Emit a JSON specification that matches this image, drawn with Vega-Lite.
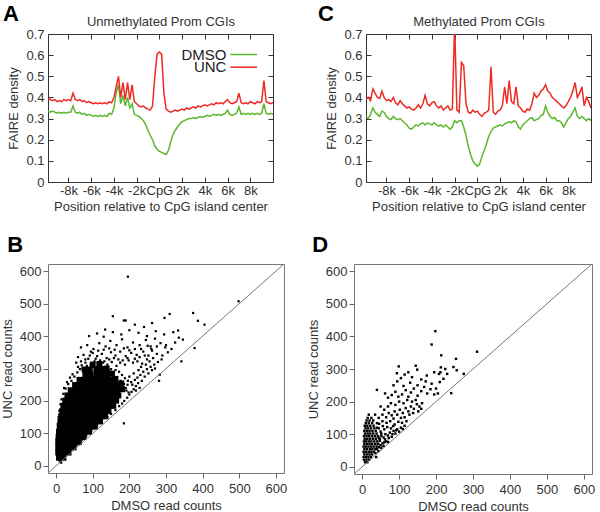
{
"$schema":"https://vega.github.io/schema/vega-lite/v6.json",
"background":"white",
"padding":{"left":0,"top":2,"right":2,"bottom":2},
"config":{"font":"Liberation Sans","view":{"stroke":"#333"},
 "axis":{"labelFont":"Liberation Sans","titleFont":"Liberation Sans","labelFontSize":13,"titleFontSize":13,"titleFontWeight":"normal","labelColor":"#333","titleColor":"#333","grid":false,"domain":false,"tickColor":"#333"},
 "title":{"font":"Liberation Sans"}},
"datasets":{
"profA":[
{"pos":-9800,"DMSO":0.335,"UNC":0.395},{"pos":-9600,"DMSO":0.33,"UNC":0.39},{"pos":-9400,"DMSO":0.335,"UNC":0.385},{"pos":-9200,"DMSO":0.33,"UNC":0.39},{"pos":-9000,"DMSO":0.325,"UNC":0.38},{"pos":-8800,"DMSO":0.33,"UNC":0.385},{"pos":-8600,"DMSO":0.325,"UNC":0.38},{"pos":-8400,"DMSO":0.33,"UNC":0.39},{"pos":-8200,"DMSO":0.325,"UNC":0.385},{"pos":-8000,"DMSO":0.33,"UNC":0.39},
{"pos":-7800,"DMSO":0.33,"UNC":0.385},{"pos":-7600,"DMSO":0.36,"UNC":0.42},{"pos":-7400,"DMSO":0.33,"UNC":0.39},{"pos":-7200,"DMSO":0.325,"UNC":0.385},{"pos":-7000,"DMSO":0.33,"UNC":0.39},{"pos":-6800,"DMSO":0.32,"UNC":0.38},{"pos":-6600,"DMSO":0.325,"UNC":0.385},{"pos":-6400,"DMSO":0.315,"UNC":0.375},{"pos":-6200,"DMSO":0.32,"UNC":0.38},{"pos":-6000,"DMSO":0.315,"UNC":0.375},
{"pos":-5800,"DMSO":0.31,"UNC":0.37},{"pos":-5600,"DMSO":0.315,"UNC":0.375},{"pos":-5400,"DMSO":0.31,"UNC":0.37},{"pos":-5200,"DMSO":0.315,"UNC":0.375},{"pos":-5000,"DMSO":0.31,"UNC":0.37},{"pos":-4800,"DMSO":0.315,"UNC":0.375},{"pos":-4600,"DMSO":0.31,"UNC":0.37},{"pos":-4400,"DMSO":0.325,"UNC":0.38},{"pos":-4200,"DMSO":0.32,"UNC":0.375},{"pos":-4000,"DMSO":0.35,"UNC":0.40},
{"pos":-3800,"DMSO":0.42,"UNC":0.45},{"pos":-3600,"DMSO":0.46,"UNC":0.50},{"pos":-3400,"DMSO":0.37,"UNC":0.40},{"pos":-3200,"DMSO":0.41,"UNC":0.47},{"pos":-3000,"DMSO":0.36,"UNC":0.39},{"pos":-2800,"DMSO":0.40,"UNC":0.47},{"pos":-2600,"DMSO":0.35,"UNC":0.39},{"pos":-2400,"DMSO":0.37,"UNC":0.46},{"pos":-2200,"DMSO":0.32,"UNC":0.38},{"pos":-2000,"DMSO":0.315,"UNC":0.37},
{"pos":-1800,"DMSO":0.31,"UNC":0.36},{"pos":-1600,"DMSO":0.30,"UNC":0.355},{"pos":-1400,"DMSO":0.29,"UNC":0.36},{"pos":-1200,"DMSO":0.27,"UNC":0.35},{"pos":-1000,"DMSO":0.245,"UNC":0.345},{"pos":-800,"DMSO":0.22,"UNC":0.34},{"pos":-600,"DMSO":0.20,"UNC":0.36},{"pos":-400,"DMSO":0.17,"UNC":0.50},{"pos":-200,"DMSO":0.155,"UNC":0.605},{"pos":0,"DMSO":0.145,"UNC":0.615},
{"pos":200,"DMSO":0.14,"UNC":0.605},{"pos":400,"DMSO":0.135,"UNC":0.42},{"pos":600,"DMSO":0.13,"UNC":0.345},{"pos":800,"DMSO":0.15,"UNC":0.335},{"pos":1000,"DMSO":0.19,"UNC":0.33},{"pos":1200,"DMSO":0.225,"UNC":0.335},{"pos":1400,"DMSO":0.245,"UNC":0.34},{"pos":1600,"DMSO":0.26,"UNC":0.335},{"pos":1800,"DMSO":0.275,"UNC":0.34},{"pos":2000,"DMSO":0.285,"UNC":0.345},
{"pos":2200,"DMSO":0.29,"UNC":0.34},{"pos":2400,"DMSO":0.295,"UNC":0.35},{"pos":2600,"DMSO":0.30,"UNC":0.345},{"pos":2800,"DMSO":0.30,"UNC":0.35},{"pos":3000,"DMSO":0.305,"UNC":0.355},{"pos":3200,"DMSO":0.30,"UNC":0.35},{"pos":3400,"DMSO":0.305,"UNC":0.36},{"pos":3600,"DMSO":0.31,"UNC":0.355},{"pos":3800,"DMSO":0.305,"UNC":0.36},{"pos":4000,"DMSO":0.31,"UNC":0.365},
{"pos":4200,"DMSO":0.315,"UNC":0.36},{"pos":4400,"DMSO":0.31,"UNC":0.365},{"pos":4600,"DMSO":0.315,"UNC":0.37},{"pos":4800,"DMSO":0.32,"UNC":0.365},{"pos":5000,"DMSO":0.315,"UNC":0.375},{"pos":5200,"DMSO":0.32,"UNC":0.37},{"pos":5400,"DMSO":0.315,"UNC":0.375},{"pos":5600,"DMSO":0.32,"UNC":0.37},{"pos":5800,"DMSO":0.325,"UNC":0.38},{"pos":6000,"DMSO":0.34,"UNC":0.39},
{"pos":6200,"DMSO":0.32,"UNC":0.375},{"pos":6400,"DMSO":0.315,"UNC":0.37},{"pos":6600,"DMSO":0.32,"UNC":0.375},{"pos":6800,"DMSO":0.325,"UNC":0.38},{"pos":7000,"DMSO":0.355,"UNC":0.42},{"pos":7200,"DMSO":0.32,"UNC":0.375},{"pos":7400,"DMSO":0.325,"UNC":0.37},{"pos":7600,"DMSO":0.32,"UNC":0.375},{"pos":7800,"DMSO":0.325,"UNC":0.37},{"pos":8000,"DMSO":0.32,"UNC":0.38},
{"pos":8200,"DMSO":0.325,"UNC":0.375},{"pos":8400,"DMSO":0.32,"UNC":0.37},{"pos":8600,"DMSO":0.325,"UNC":0.38},{"pos":8800,"DMSO":0.32,"UNC":0.375},{"pos":9000,"DMSO":0.325,"UNC":0.38},{"pos":9200,"DMSO":0.37,"UNC":0.48},{"pos":9400,"DMSO":0.325,"UNC":0.38},{"pos":9600,"DMSO":0.32,"UNC":0.375},{"pos":9800,"DMSO":0.325,"UNC":0.37},{"pos":10000,"DMSO":0.32,"UNC":0.375}
],
"profC":[
{"pos":-9800,"DMSO":0.31,"UNC":0.39},{"pos":-9600,"DMSO":0.30,"UNC":0.40},{"pos":-9400,"DMSO":0.32,"UNC":0.385},{"pos":-9200,"DMSO":0.35,"UNC":0.44},{"pos":-9000,"DMSO":0.33,"UNC":0.42},{"pos":-8800,"DMSO":0.32,"UNC":0.40},{"pos":-8600,"DMSO":0.31,"UNC":0.395},{"pos":-8400,"DMSO":0.335,"UNC":0.43},{"pos":-8200,"DMSO":0.33,"UNC":0.40},{"pos":-8000,"DMSO":0.31,"UNC":0.385},
{"pos":-7800,"DMSO":0.30,"UNC":0.39},{"pos":-7600,"DMSO":0.295,"UNC":0.38},{"pos":-7400,"DMSO":0.31,"UNC":0.40},{"pos":-7200,"DMSO":0.30,"UNC":0.375},{"pos":-7000,"DMSO":0.295,"UNC":0.365},{"pos":-6800,"DMSO":0.30,"UNC":0.385},{"pos":-6600,"DMSO":0.29,"UNC":0.37},{"pos":-6400,"DMSO":0.28,"UNC":0.36},{"pos":-6200,"DMSO":0.27,"UNC":0.35},{"pos":-6000,"DMSO":0.255,"UNC":0.355},
{"pos":-5800,"DMSO":0.25,"UNC":0.345},{"pos":-5600,"DMSO":0.26,"UNC":0.34},{"pos":-5400,"DMSO":0.27,"UNC":0.35},{"pos":-5200,"DMSO":0.265,"UNC":0.365},{"pos":-5000,"DMSO":0.275,"UNC":0.35},{"pos":-4800,"DMSO":0.28,"UNC":0.37},{"pos":-4600,"DMSO":0.27,"UNC":0.41},{"pos":-4400,"DMSO":0.28,"UNC":0.37},{"pos":-4200,"DMSO":0.275,"UNC":0.36},{"pos":-4000,"DMSO":0.27,"UNC":0.375},
{"pos":-3800,"DMSO":0.28,"UNC":0.38},{"pos":-3600,"DMSO":0.27,"UNC":0.36},{"pos":-3400,"DMSO":0.265,"UNC":0.35},{"pos":-3200,"DMSO":0.27,"UNC":0.36},{"pos":-3000,"DMSO":0.26,"UNC":0.34},{"pos":-2800,"DMSO":0.27,"UNC":0.35},{"pos":-2600,"DMSO":0.26,"UNC":0.36},{"pos":-2400,"DMSO":0.25,"UNC":0.34},{"pos":-2200,"DMSO":0.26,"UNC":0.345},{"pos":-2000,"DMSO":0.29,"UNC":0.75},
{"pos":-1800,"DMSO":0.28,"UNC":0.34},{"pos":-1600,"DMSO":0.29,"UNC":0.33},{"pos":-1400,"DMSO":0.29,"UNC":0.565},{"pos":-1200,"DMSO":0.26,"UNC":0.55},{"pos":-1000,"DMSO":0.22,"UNC":0.37},{"pos":-800,"DMSO":0.17,"UNC":0.33},{"pos":-600,"DMSO":0.13,"UNC":0.325},{"pos":-400,"DMSO":0.10,"UNC":0.34},{"pos":-200,"DMSO":0.085,"UNC":0.33},{"pos":0,"DMSO":0.075,"UNC":0.335},
{"pos":200,"DMSO":0.085,"UNC":0.32},{"pos":400,"DMSO":0.12,"UNC":0.31},{"pos":600,"DMSO":0.15,"UNC":0.325},{"pos":800,"DMSO":0.18,"UNC":0.33},{"pos":1000,"DMSO":0.215,"UNC":0.34},{"pos":1200,"DMSO":0.24,"UNC":0.545},{"pos":1400,"DMSO":0.255,"UNC":0.33},{"pos":1600,"DMSO":0.26,"UNC":0.32},{"pos":1800,"DMSO":0.265,"UNC":0.335},{"pos":2000,"DMSO":0.27,"UNC":0.34},
{"pos":2200,"DMSO":0.265,"UNC":0.36},{"pos":2400,"DMSO":0.275,"UNC":0.45},{"pos":2600,"DMSO":0.28,"UNC":0.37},{"pos":2800,"DMSO":0.285,"UNC":0.48},{"pos":3000,"DMSO":0.28,"UNC":0.38},{"pos":3200,"DMSO":0.29,"UNC":0.37},{"pos":3400,"DMSO":0.285,"UNC":0.45},{"pos":3600,"DMSO":0.26,"UNC":0.36},{"pos":3800,"DMSO":0.25,"UNC":0.35},{"pos":4000,"DMSO":0.27,"UNC":0.335},
{"pos":4200,"DMSO":0.28,"UNC":0.33},{"pos":4400,"DMSO":0.29,"UNC":0.345},{"pos":4600,"DMSO":0.30,"UNC":0.34},{"pos":4800,"DMSO":0.305,"UNC":0.37},{"pos":5000,"DMSO":0.29,"UNC":0.42},{"pos":5200,"DMSO":0.295,"UNC":0.40},{"pos":5400,"DMSO":0.30,"UNC":0.41},{"pos":5600,"DMSO":0.315,"UNC":0.43},{"pos":5800,"DMSO":0.32,"UNC":0.44},{"pos":6000,"DMSO":0.36,"UNC":0.46},
{"pos":6200,"DMSO":0.33,"UNC":0.43},{"pos":6400,"DMSO":0.31,"UNC":0.42},{"pos":6600,"DMSO":0.30,"UNC":0.40},{"pos":6800,"DMSO":0.305,"UNC":0.39},{"pos":7000,"DMSO":0.29,"UNC":0.38},{"pos":7200,"DMSO":0.29,"UNC":0.37},{"pos":7400,"DMSO":0.28,"UNC":0.36},{"pos":7600,"DMSO":0.26,"UNC":0.35},{"pos":7800,"DMSO":0.28,"UNC":0.36},{"pos":8000,"DMSO":0.30,"UNC":0.38},
{"pos":8200,"DMSO":0.31,"UNC":0.40},{"pos":8400,"DMSO":0.33,"UNC":0.43},{"pos":8600,"DMSO":0.35,"UNC":0.47},{"pos":8800,"DMSO":0.31,"UNC":0.40},{"pos":9000,"DMSO":0.30,"UNC":0.42},{"pos":9200,"DMSO":0.31,"UNC":0.45},{"pos":9400,"DMSO":0.30,"UNC":0.36},{"pos":9600,"DMSO":0.29,"UNC":0.40},{"pos":9800,"DMSO":0.30,"UNC":0.38},{"pos":10000,"DMSO":0.29,"UNC":0.35}
],
"coreB":[
{"x":8,"y":25},{"x":20,"y":25},
{"x":6,"y":41},{"x":20,"y":41},{"x":34,"y":41},
{"x":6,"y":57},{"x":20,"y":57},{"x":34,"y":57},{"x":48,"y":57},
{"x":6,"y":73},{"x":20,"y":73},{"x":34,"y":73},{"x":48,"y":73},{"x":62,"y":73},
{"x":7,"y":89},{"x":21,"y":89},{"x":35,"y":89},{"x":49,"y":89},{"x":63,"y":89},{"x":75,"y":89},
{"x":8,"y":105},{"x":22,"y":105},{"x":36,"y":105},{"x":50,"y":105},{"x":64,"y":105},{"x":78,"y":105},{"x":90,"y":105},
{"x":10,"y":121},{"x":24,"y":121},{"x":38,"y":121},{"x":52,"y":121},{"x":66,"y":121},{"x":80,"y":121},{"x":94,"y":121},{"x":106,"y":121},
{"x":12,"y":137},{"x":26,"y":137},{"x":40,"y":137},{"x":54,"y":137},{"x":68,"y":137},{"x":82,"y":137},{"x":96,"y":137},{"x":110,"y":137},{"x":120,"y":137},
{"x":14,"y":153},{"x":28,"y":153},{"x":42,"y":153},{"x":56,"y":153},{"x":70,"y":153},{"x":84,"y":153},{"x":98,"y":153},{"x":112,"y":153},{"x":126,"y":153},{"x":134,"y":153},
{"x":17,"y":169},{"x":31,"y":169},{"x":45,"y":169},{"x":59,"y":169},{"x":73,"y":169},{"x":87,"y":169},{"x":101,"y":169},{"x":115,"y":169},{"x":129,"y":169},{"x":143,"y":169},
{"x":20,"y":185},{"x":34,"y":185},{"x":48,"y":185},{"x":62,"y":185},{"x":76,"y":185},{"x":90,"y":185},{"x":104,"y":185},{"x":118,"y":185},{"x":132,"y":185},{"x":146,"y":185},{"x":156,"y":185},
{"x":25,"y":201},{"x":39,"y":201},{"x":53,"y":201},{"x":67,"y":201},{"x":81,"y":201},{"x":95,"y":201},{"x":109,"y":201},{"x":123,"y":201},{"x":137,"y":201},{"x":151,"y":201},{"x":164,"y":201},
{"x":31,"y":217},{"x":45,"y":217},{"x":59,"y":217},{"x":73,"y":217},{"x":87,"y":217},{"x":101,"y":217},{"x":115,"y":217},{"x":129,"y":217},{"x":143,"y":217},{"x":157,"y":217},{"x":170,"y":217},
{"x":40,"y":233},{"x":54,"y":233},{"x":68,"y":233},{"x":82,"y":233},{"x":96,"y":233},{"x":110,"y":233},{"x":124,"y":233},{"x":138,"y":233},{"x":152,"y":233},{"x":166,"y":233},{"x":180,"y":236},
{"x":52,"y":249},{"x":66,"y":249},{"x":80,"y":249},{"x":94,"y":249},{"x":108,"y":249},{"x":122,"y":249},{"x":136,"y":249},{"x":150,"y":249},{"x":164,"y":250},{"x":178,"y":254},
{"x":64,"y":265},{"x":78,"y":265},{"x":92,"y":265},{"x":106,"y":265},{"x":120,"y":265},{"x":134,"y":265},{"x":148,"y":266},{"x":162,"y":268},
{"x":80,"y":281},{"x":94,"y":281},{"x":110,"y":281},{"x":124,"y":281},{"x":138,"y":283},{"x":152,"y":284},
{"x":78,"y":297},{"x":92,"y":297},{"x":110,"y":297},{"x":124,"y":298},{"x":138,"y":300},
{"x":100,"y":312},{"x":118,"y":314}
],
"ptsB":[
{"x":10,"y":14},{"x":16,"y":18},{"x":14,"y":10},{"x":22,"y":30},{"x":4,"y":22},
{"x":3,"y":35},{"x":3,"y":60},{"x":2,"y":85},{"x":4,"y":110},{"x":5,"y":130},{"x":7,"y":150},{"x":9,"y":170},{"x":12,"y":190},{"x":15,"y":205},{"x":20,"y":222},{"x":26,"y":238},{"x":33,"y":252},{"x":42,"y":262},{"x":50,"y":275},{"x":58,"y":288},{"x":65,"y":298},
{"x":28,"y":38},{"x":40,"y":50},{"x":55,"y":64},{"x":70,"y":80},{"x":82,"y":92},{"x":96,"y":108},{"x":112,"y":124},{"x":125,"y":136},{"x":140,"y":150},{"x":150,"y":160},{"x":162,"y":172},{"x":172,"y":184},{"x":180,"y":192},{"x":186,"y":200},{"x":194,"y":210},{"x":200,"y":220},{"x":206,"y":228},{"x":212,"y":236},{"x":178,"y":235},{"x":190,"y":240},{"x":185,"y":252},{"x":165,"y":252},{"x":176,"y":262},{"x":150,"y":265},{"x":166,"y":272},{"x":140,"y":280},{"x":158,"y":285},{"x":145,"y":292},{"x":135,"y":300},{"x":125,"y":305},{"x":75,"y":297},{"x":125,"y":295},
{"x":160,"y":258},{"x":172,"y":248},{"x":182,"y":244},{"x":192,"y":232},{"x":198,"y":226},{"x":168,"y":240},{"x":158,"y":275},{"x":148,"y":282},{"x":138,"y":290},{"x":150,"y":298},{"x":162,"y":295},{"x":172,"y":290},{"x":180,"y":280},{"x":188,"y":270},{"x":196,"y":262},{"x":208,"y":250},{"x":218,"y":246},{"x":224,"y":255},{"x":234,"y":262},{"x":228,"y":240},{"x":218,"y":232},
{"x":60,"y":305},{"x":72,"y":300},{"x":84,"y":308},{"x":100,"y":305},{"x":112,"y":303},{"x":120,"y":300},{"x":130,"y":290},{"x":45,"y":282},{"x":38,"y":272},{"x":30,"y":258},{"x":22,"y":240},
{"x":80,"y":328},{"x":92,"y":340},{"x":108,"y":330},{"x":120,"y":325},{"x":132,"y":322},{"x":145,"y":328},{"x":158,"y":332},{"x":170,"y":328},{"x":182,"y":325},{"x":195,"y":332},{"x":215,"y":330},{"x":228,"y":335},{"x":242,"y":340},{"x":68,"y":322},{"x":55,"y":318},{"x":95,"y":352},{"x":115,"y":355},{"x":130,"y":358},{"x":145,"y":362},{"x":160,"y":358},{"x":185,"y":362},{"x":200,"y":356},{"x":215,"y":360},{"x":232,"y":360},{"x":250,"y":370},
{"x":70,"y":310},{"x":80,"y":318},{"x":95,"y":312},{"x":105,"y":322},{"x":118,"y":310},{"x":128,"y":318},{"x":140,"y":312},{"x":152,"y":320},{"x":165,"y":308},{"x":175,"y":318},{"x":188,"y":312},{"x":198,"y":325},{"x":210,"y":318},{"x":222,"y":322},{"x":235,"y":315},{"x":248,"y":328},
{"x":60,"y":335},{"x":75,"y":342},{"x":88,"y":330},{"x":100,"y":348},{"x":112,"y":338},{"x":125,"y":345},{"x":138,"y":332},{"x":150,"y":350},{"x":162,"y":340},{"x":175,"y":352},{"x":190,"y":338},{"x":205,"y":348},{"x":220,"y":342},{"x":238,"y":352},{"x":252,"y":340},{"x":262,"y":355},{"x":275,"y":345},
{"x":68,"y":365},{"x":85,"y":372},{"x":102,"y":360},{"x":118,"y":378},{"x":135,"y":368},{"x":148,"y":385},{"x":165,"y":372},{"x":180,"y":390},{"x":195,"y":365},{"x":210,"y":380},{"x":228,"y":372},{"x":245,"y":388},{"x":258,"y":368},{"x":270,"y":392},{"x":285,"y":378},{"x":300,"y":372},
{"x":90,"y":400},{"x":112,"y":408},{"x":130,"y":398},{"x":155,"y":412},{"x":178,"y":405},{"x":200,"y":418},{"x":225,"y":410},{"x":248,"y":400},{"x":272,"y":415},{"x":295,"y":405},{"x":320,"y":412},
{"x":134,"y":420},{"x":155,"y":461},{"x":185,"y":448},{"x":190,"y":448},{"x":196,"y":583},{"x":296,"y":456},{"x":310,"y":468},{"x":374,"y":471},{"x":387,"y":447},{"x":405,"y":435},{"x":333,"y":417},{"x":346,"y":389},{"x":342,"y":322},{"x":378,"y":363},{"x":283,"y":281},{"x":281,"y":262},{"x":185,"y":131},{"x":498,"y":507},
{"x":240,"y":428},{"x":262,"y":440},{"x":215,"y":435},
{"x":195,"y":250},{"x":205,"y":258},{"x":215,"y":265},{"x":222,"y":272},{"x":230,"y":280},{"x":238,"y":290},{"x":248,"y":298},{"x":258,"y":305},{"x":268,"y":312},{"x":278,"y":320},{"x":288,"y":328},{"x":200,"y":275},{"x":212,"y":285},{"x":225,"y":295},{"x":232,"y":305},{"x":245,"y":312},{"x":255,"y":322},{"x":265,"y":332},{"x":242,"y":275},{"x":252,"y":285},{"x":262,"y":295},{"x":270,"y":300},{"x":290,"y":340},{"x":305,"y":350},{"x":315,"y":360},{"x":298,"y":365},{"x":325,"y":380},{"x":335,"y":395},{"x":260,"y":360},{"x":275,"y":368}
],
"ptsD":[
{"x":8,"y":14},{"x":14,"y":14},
{"x":5,"y":22},{"x":12,"y":22},{"x":19,"y":22},
{"x":4,"y":30},{"x":10,"y":30},{"x":17,"y":30},{"x":24,"y":30},
{"x":6,"y":38},{"x":13,"y":38},{"x":20,"y":38},{"x":27,"y":38},
{"x":4,"y":46},{"x":11,"y":46},{"x":18,"y":46},{"x":25,"y":46},{"x":32,"y":46},
{"x":6,"y":54},{"x":13,"y":54},{"x":21,"y":54},{"x":28,"y":54},{"x":36,"y":54},
{"x":4,"y":62},{"x":10,"y":62},{"x":17,"y":62},{"x":24,"y":62},{"x":31,"y":62},{"x":39,"y":62},
{"x":6,"y":70},{"x":13,"y":70},{"x":20,"y":70},{"x":27,"y":70},{"x":35,"y":70},{"x":44,"y":70},
{"x":5,"y":78},{"x":11,"y":78},{"x":18,"y":78},{"x":25,"y":78},{"x":33,"y":78},{"x":41,"y":78},
{"x":7,"y":86},{"x":14,"y":86},{"x":21,"y":86},{"x":29,"y":86},{"x":37,"y":86},{"x":48,"y":86},
{"x":5,"y":94},{"x":12,"y":94},{"x":19,"y":94},{"x":27,"y":94},{"x":35,"y":94},{"x":43,"y":94},
{"x":8,"y":102},{"x":15,"y":102},{"x":22,"y":102},{"x":30,"y":102},{"x":39,"y":102},{"x":52,"y":102},
{"x":6,"y":110},{"x":13,"y":110},{"x":20,"y":110},{"x":28,"y":110},{"x":37,"y":110},
{"x":9,"y":118},{"x":16,"y":118},{"x":24,"y":118},{"x":33,"y":118},{"x":45,"y":118},
{"x":7,"y":126},{"x":14,"y":126},{"x":22,"y":126},{"x":31,"y":126},
{"x":10,"y":134},{"x":18,"y":134},{"x":27,"y":134},{"x":40,"y":134},
{"x":12,"y":142},{"x":20,"y":142},{"x":30,"y":142},
{"x":15,"y":150},{"x":25,"y":150},{"x":18,"y":160},{"x":35,"y":160},
{"x":36,"y":42},{"x":40,"y":55},{"x":45,"y":60},{"x":42,"y":70},{"x":50,"y":66},{"x":55,"y":72},{"x":48,"y":80},{"x":60,"y":75},{"x":38,"y":30},{"x":44,"y":48},{"x":52,"y":58},{"x":58,"y":64},{"x":65,"y":78},{"x":70,"y":76},
{"x":45,"y":88},{"x":52,"y":95},{"x":58,"y":90},{"x":63,"y":100},{"x":70,"y":96},{"x":75,"y":105},{"x":80,"y":92},{"x":85,"y":110},{"x":90,"y":102},{"x":95,"y":115},{"x":100,"y":108},{"x":105,"y":120},{"x":110,"y":116},{"x":115,"y":126},{"x":60,"y":115},{"x":68,"y":122},{"x":78,"y":118},{"x":88,"y":130},{"x":98,"y":138},{"x":108,"y":135},{"x":120,"y":140},{"x":50,"y":108},{"x":56,"y":125},{"x":66,"y":135},{"x":76,"y":140},{"x":84,"y":125},{"x":46,"y":132},{"x":55,"y":140},{"x":40,"y":120},{"x":62,"y":84},{"x":72,"y":88},{"x":82,"y":100},{"x":92,"y":112},
{"x":45,"y":150},{"x":55,"y":160},{"x":65,"y":152},{"x":72,"y":165},{"x":80,"y":158},{"x":88,"y":170},{"x":95,"y":160},{"x":102,"y":175},{"x":110,"y":165},{"x":118,"y":180},{"x":125,"y":170},{"x":132,"y":185},{"x":140,"y":178},{"x":148,"y":192},{"x":155,"y":185},{"x":162,"y":195},{"x":60,"y":175},{"x":70,"y":185},{"x":78,"y":195},{"x":90,"y":190},{"x":100,"y":200},{"x":112,"y":195},{"x":122,"y":205},{"x":135,"y":200},{"x":145,"y":205},{"x":50,"y":185},{"x":85,"y":148},{"x":115,"y":152},{"x":128,"y":160},{"x":138,"y":165},{"x":105,"y":150},{"x":152,"y":170},{"x":160,"y":178},
{"x":40,"y":236},{"x":62,"y":225},{"x":70,"y":212},{"x":80,"y":220},{"x":90,"y":230},{"x":98,"y":215},{"x":108,"y":222},{"x":118,"y":235},{"x":125,"y":215},{"x":132,"y":228},{"x":140,"y":240},{"x":150,"y":218},{"x":160,"y":232},{"x":168,"y":245},{"x":176,"y":225},{"x":185,"y":238},{"x":195,"y":222},{"x":205,"y":225},{"x":200,"y":240},{"x":210,"y":260},{"x":241,"y":226},{"x":85,"y":250},{"x":95,"y":262},{"x":112,"y":248},{"x":130,"y":258},{"x":150,"y":250},{"x":172,"y":262},{"x":188,"y":255},
{"x":198,"y":416},{"x":188,"y":375},{"x":311,"y":353},{"x":214,"y":342},{"x":254,"y":331},{"x":99,"y":308},{"x":247,"y":306},{"x":256,"y":296},{"x":149,"y":298},{"x":225,"y":300},{"x":213,"y":305},{"x":115,"y":283},{"x":94,"y":287},{"x":275,"y":285},{"x":208,"y":285},{"x":212,"y":290},{"x":135,"y":275},{"x":160,"y":268},{"x":105,"y":272},{"x":125,"y":290},{"x":175,"y":280},{"x":195,"y":290},{"x":230,"y":285},{"x":220,"y":270},{"x":145,"y":310}
]
},
"vconcat":[
{"hconcat":[
 {"width":225,"height":148,
  "title":{"text":"A","anchor":"start","frame":"bounds","fontSize":22,"fontWeight":"bold","color":"#000","offset":-10,"dx":-5},
  "data":{"name":"profA"},
  "layer":[
   {"mark":{"type":"line","color":"#5DB82F","strokeWidth":1.5,"clip":true},
    "encoding":{
     "x":{"field":"pos","type":"quantitative","scale":{"domain":[-9800,10000],"nice":false,"zero":false},
      "axis":{"orient":"bottom","values":[-8000,-6000,-4000,-2000,0,2000,4000,6000,8000],"labelExpr":"datum.value == 0 ? 'CpG' : (datum.value/1000) + 'k'","labelOverlap":false,"labelFlush":false,"tickSize":-5,"labelPadding":7,"title":"Position relative to CpG island center","titlePadding":3}},
     "y":{"field":"DMSO","type":"quantitative","scale":{"domain":[0,0.7],"nice":false,"zero":false},
      "axis":{"orient":"left","values":[0,0.1,0.2,0.3,0.4,0.5,0.6,0.7],"labelExpr":"datum.value == 0 ? '0' : format(datum.value, '.1f')","labelOverlap":false,"tickSize":-5,"labelPadding":9,"title":"FAIRE density","titlePadding":5}}}},
   {"mark":{"type":"line","color":"#EE2A24","strokeWidth":1.5,"clip":true},
    "encoding":{
     "x":{"field":"pos","type":"quantitative","axis":{"orient":"top","values":[-8000,-6000,-4000,-2000,0,2000,4000,6000,8000],"labels":false,"tickSize":-5,"title":"Unmethylated Prom CGIs","titlePadding":5}},
     "y":{"field":"UNC","type":"quantitative","axis":{"orient":"right","values":[0,0.1,0.2,0.3,0.4,0.5,0.6,0.7],"labels":false,"tickSize":-5,"title":null}}}},
   {"data":{"values":[{}]},"mark":{"type":"text","align":"right","baseline":"middle","fontSize":15,"color":"#222"},
    "encoding":{"x":{"datum":5900,"type":"quantitative","axis":null},"y":{"datum":0.603,"type":"quantitative","axis":null},"text":{"value":"DMSO"}}},
   {"data":{"values":[{}]},"mark":{"type":"text","align":"right","baseline":"middle","fontSize":15,"color":"#222"},
    "encoding":{"x":{"datum":5900,"type":"quantitative","axis":null},"y":{"datum":0.543,"type":"quantitative","axis":null},"text":{"value":"UNC"}}},
   {"data":{"values":[{}]},"mark":{"type":"rule","color":"#5DB82F","strokeWidth":1.5},
    "encoding":{"x":{"datum":6250,"type":"quantitative","axis":null},"x2":{"datum":8600},"y":{"datum":0.603,"type":"quantitative","axis":null}}},
   {"data":{"values":[{}]},"mark":{"type":"rule","color":"#EE2A24","strokeWidth":1.5},
    "encoding":{"x":{"datum":6250,"type":"quantitative","axis":null},"x2":{"datum":8600},"y":{"datum":0.543,"type":"quantitative","axis":null}}}
  ],
  "resolve":{"axis":{"x":"independent","y":"independent"}}},
 {"width":225,"height":148,
  "title":{"text":"C","anchor":"start","frame":"bounds","fontSize":22,"fontWeight":"bold","color":"#000","offset":-10,"dx":-8},
  "data":{"name":"profC"},
  "layer":[
   {"mark":{"type":"line","color":"#5DB82F","strokeWidth":1.5,"clip":true},
    "encoding":{
     "x":{"field":"pos","type":"quantitative","scale":{"domain":[-9800,10000],"nice":false,"zero":false},
      "axis":{"orient":"bottom","values":[-8000,-6000,-4000,-2000,0,2000,4000,6000,8000],"labelExpr":"datum.value == 0 ? 'CpG' : (datum.value/1000) + 'k'","labelOverlap":false,"labelFlush":false,"tickSize":-5,"labelPadding":7,"title":"Position relative to CpG island center","titlePadding":3}},
     "y":{"field":"DMSO","type":"quantitative","scale":{"domain":[0,0.7],"nice":false,"zero":false},
      "axis":{"orient":"left","values":[0,0.1,0.2,0.3,0.4,0.5,0.6,0.7],"labelExpr":"datum.value == 0 ? '0' : format(datum.value, '.1f')","labelOverlap":false,"tickSize":-5,"labelPadding":9,"title":"FAIRE density","titlePadding":5}}}},
   {"mark":{"type":"line","color":"#EE2A24","strokeWidth":1.5,"clip":true},
    "encoding":{
     "x":{"field":"pos","type":"quantitative","axis":{"orient":"top","values":[-8000,-6000,-4000,-2000,0,2000,4000,6000,8000],"labels":false,"tickSize":-5,"title":"Methylated Prom CGIs","titlePadding":5}},
     "y":{"field":"UNC","type":"quantitative","axis":{"orient":"right","values":[0,0.1,0.2,0.3,0.4,0.5,0.6,0.7],"labels":false,"tickSize":-5,"title":null}}}}
  ],
  "resolve":{"axis":{"x":"independent","y":"independent"}}}
 ],"spacing":93,"bounds":"flush"},
{"hconcat":[
 {"width":236,"height":209,"view":{"stroke":"#777"},
  "title":{"text":"B","anchor":"start","frame":"bounds","fontSize":22,"fontWeight":"bold","color":"#000","offset":7,"dx":6},
  "layer":[
   {"data":{"name":"coreB"},"mark":{"type":"point","shape":"square","filled":true,"color":"#000","opacity":1,"size":36},
    "encoding":{
     "x":{"field":"x","type":"quantitative","scale":{"domain":[-22,622],"nice":false,"zero":false},
      "axis":{"values":[0,100,200,300,400,500,600],"labelOverlap":false,"tickSize":5,"tickColor":"#666","labelPadding":4,"title":"DMSO read counts","titlePadding":4,"labelFlush":false}},
     "y":{"field":"y","type":"quantitative","scale":{"domain":[-22,622],"nice":false,"zero":false},
      "axis":{"values":[0,100,200,300,400,500,600],"labelOverlap":false,"tickSize":5,"tickColor":"#666","labelPadding":2,"title":"UNC read counts","titlePadding":5,"labelFlush":false}}}},
   {"data":{"name":"ptsB"},"mark":{"type":"point","shape":"square","filled":true,"color":"#000","opacity":1,"size":5},
    "encoding":{
     "x":{"field":"x","type":"quantitative",
      "axis":{"values":[0,100,200,300,400,500,600],"labelOverlap":false,"tickSize":5,"tickColor":"#666","labelPadding":4,"title":"DMSO read counts","titlePadding":4,"labelFlush":false}},
     "y":{"field":"y","type":"quantitative",
      "axis":{"values":[0,100,200,300,400,500,600],"labelOverlap":false,"tickSize":5,"tickColor":"#666","labelPadding":2,"title":"UNC read counts","titlePadding":5,"labelFlush":false}}}},
   {"data":{"values":[{}]},"mark":{"type":"rule","color":"#777","strokeWidth":1},
    "encoding":{
     "x":{"datum":-22,"type":"quantitative",
      "axis":{"values":[0,100,200,300,400,500,600],"labelOverlap":false,"tickSize":5,"tickColor":"#666","labelPadding":4,"title":"DMSO read counts","titlePadding":4,"labelFlush":false}},
     "y":{"datum":-22,"type":"quantitative",
      "axis":{"values":[0,100,200,300,400,500,600],"labelOverlap":false,"tickSize":5,"tickColor":"#666","labelPadding":2,"title":"UNC read counts","titlePadding":5,"labelFlush":false}},
     "x2":{"datum":622},"y2":{"datum":622}}}
  ]},
 {"width":238,"height":210,"view":{"stroke":"#777"},
  "title":{"text":"D","anchor":"start","frame":"bounds","fontSize":22,"fontWeight":"bold","color":"#000","offset":7,"dx":5},
  "layer":[
   {"data":{"name":"ptsD"},"mark":{"type":"point","shape":"square","filled":true,"color":"#000","opacity":1,"size":6},
    "encoding":{
     "x":{"field":"x","type":"quantitative","scale":{"domain":[-22,622],"nice":false,"zero":false},
      "axis":{"values":[0,100,200,300,400,500,600],"labelOverlap":false,"tickSize":5,"tickColor":"#666","labelPadding":4,"title":"DMSO read counts","titlePadding":4,"labelFlush":false}},
     "y":{"field":"y","type":"quantitative","scale":{"domain":[-22,622],"nice":false,"zero":false},
      "axis":{"values":[0,100,200,300,400,500,600],"labelOverlap":false,"tickSize":5,"tickColor":"#666","labelPadding":2,"title":"UNC read counts","titlePadding":5,"labelFlush":false}}}},
   {"data":{"values":[{}]},"mark":{"type":"rule","color":"#777","strokeWidth":1},
    "encoding":{
     "x":{"datum":-22,"type":"quantitative",
      "axis":{"values":[0,100,200,300,400,500,600],"labelOverlap":false,"tickSize":5,"tickColor":"#666","labelPadding":4,"title":"DMSO read counts","titlePadding":4,"labelFlush":false}},
     "y":{"datum":-22,"type":"quantitative",
      "axis":{"values":[0,100,200,300,400,500,600],"labelOverlap":false,"tickSize":5,"tickColor":"#666","labelPadding":2,"title":"UNC read counts","titlePadding":5,"labelFlush":false}},
     "x2":{"datum":622},"y2":{"datum":622}}}
  ]}
 ],"spacing":70,"bounds":"flush"}
],
"spacing":230,"bounds":"flush"
}
